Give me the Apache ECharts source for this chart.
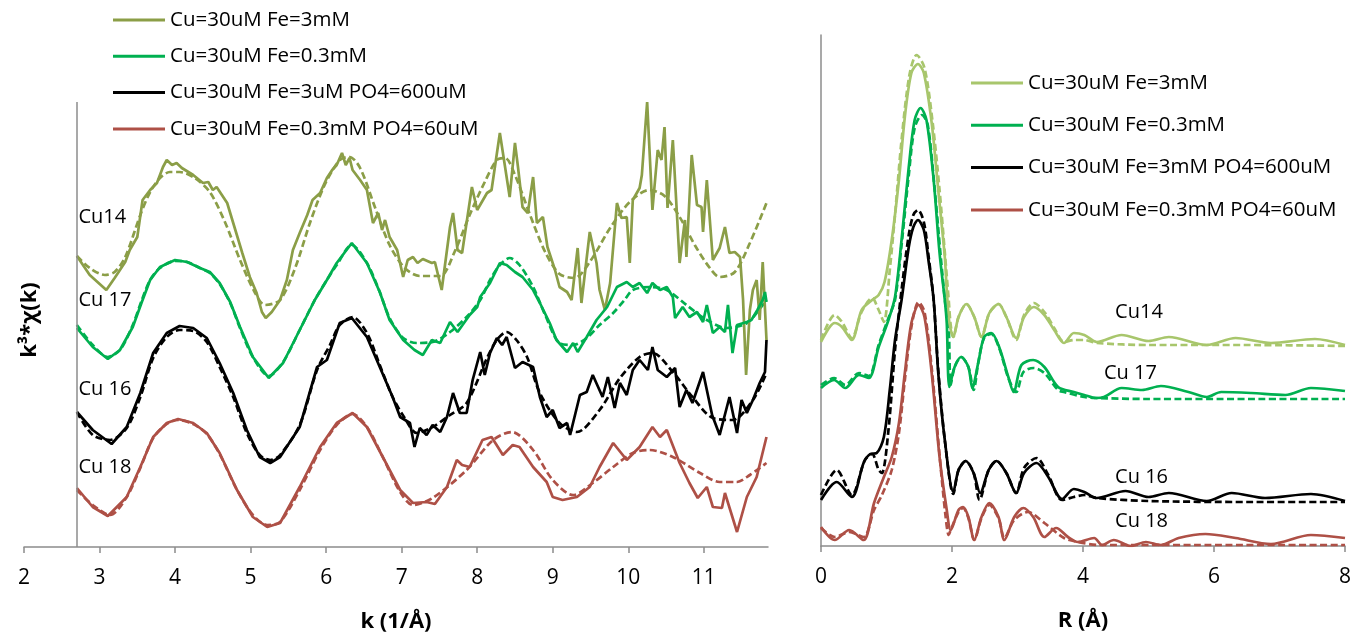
<!DOCTYPE html>
<html>
<head>
<meta charset="utf-8">
<script src="https://cdn.jsdelivr.net/npm/echarts@6/dist/echarts.min.js"></script>
<style>html,body{margin:0;padding:0;background:#fff}#c{width:1354px;height:642px}</style>
</head>
<body>
<div id="c"></div>
<script>
// ---------- DATA (y in arbitrary offset units) ----------
// Left panel: k (1/Å) vs k^3*chi(k), offset curves
const kTicks = [2, 3, 4, 5, 6, 7, 8, 9, 10, 11];
const rTicks = [0, 2, 4, 6, 8];

const cu14K = [[2.70,29.1],[2.87,27.2],[3.09,25.7],[3.20,26.9],[3.34,28.5],[3.40,29.7],[3.50,31.0],[3.57,34.7],[3.67,35.7],[3.76,36.4],[3.84,38.0],[3.89,38.7],[3.96,38.2],[4.02,38.4],[4.09,37.9],[4.24,37.2],[4.37,36.4],[4.44,36.5],[4.50,35.7],[4.55,36.0],[4.69,34.4],[4.77,32.4],[4.89,29.4],[4.99,27.0],[5.08,25.4],[5.15,23.5],[5.20,22.9],[5.28,23.5],[5.39,24.7],[5.48,26.7],[5.56,29.7],[5.65,31.4],[5.75,33.2],[5.82,34.7],[5.92,35.4],[6.01,36.9],[6.08,37.7],[6.14,38.2],[6.21,39.4],[6.26,38.2],[6.31,38.9],[6.35,37.7],[6.45,36.7],[6.54,35.7],[6.62,32.4],[6.69,33.4],[6.74,31.7],[6.78,32.7],[6.84,31.0],[6.94,29.7],[7.02,27.0],[7.08,28.7],[7.15,29.0],[7.21,28.4],[7.28,28.8],[7.40,28.4],[7.44,28.5],[7.53,25.7],[7.64,32.0],[7.68,33.4],[7.74,29.7],[7.80,29.4],[7.93,36.0],[8.00,33.7],[8.13,35.4],[8.19,35.7],[8.30,41.4],[8.43,35.0],[8.50,40.4],[8.54,38.0],[8.60,34.0],[8.67,33.4],[8.74,37.0],[8.79,32.4],[8.87,33.0],[8.93,30.0],[9.03,27.7],[9.09,26.0],[9.19,25.5],[9.25,24.7],[9.33,29.9],[9.38,24.4],[9.49,31.5],[9.58,28.4],[9.62,25.7],[9.69,23.7],[9.76,26.4],[9.85,34.4],[9.91,32.9],[9.98,33.0],[10.02,28.4],[10.06,34.7],[10.15,35.9],[10.18,37.2],[10.25,44.5],[10.32,33.7],[10.39,39.7],[10.44,38.7],[10.48,42.0],[10.52,33.9],[10.59,40.7],[10.68,28.4],[10.75,32.7],[10.77,29.0],[10.84,39.2],[10.91,34.2],[10.97,34.0],[10.99,31.5],[11.04,36.7],[11.12,28.7],[11.21,29.9],[11.28,32.0],[11.34,29.4],[11.41,29.5],[11.48,29.0],[11.52,24.7],[11.56,17.2],[11.61,23.7],[11.65,25.7],[11.70,26.7],[11.74,22.7],[11.78,28.5],[11.83,20.7]];
const cu14KFit = [[2.70,29.1],[2.87,27.9],[3.07,27.2],[3.20,27.5],[3.34,29.0],[3.54,33.2],[3.67,35.5],[3.80,36.9],[3.93,37.5],[4.06,37.5],[4.26,36.9],[4.46,35.5],[4.66,32.5],[4.86,28.7],[5.06,25.4],[5.19,24.2],[5.39,24.7],[5.59,27.9],[5.79,32.5],[5.98,36.2],[6.18,38.7],[6.31,39.0],[6.45,37.9],[6.65,33.9],[6.84,30.2],[7.04,27.9],[7.24,27.1],[7.51,27.1],[7.70,29.5],[7.90,33.2],[8.10,36.5],[8.26,38.7],[8.37,38.9],[8.50,37.2],[8.70,33.2],[8.90,29.5],[9.09,27.3],[9.29,26.9],[9.49,28.5],[9.76,31.9],[10.02,34.5],[10.28,35.7],[10.48,35.1],[10.68,33.0],[10.88,30.2],[11.08,27.9],[11.21,27.0],[11.41,27.5],[11.61,30.4],[11.83,34.4]];

const cu17K = [[2.70,21.9],[2.91,20.0],[3.11,18.8],[3.27,19.7],[3.44,22.0],[3.56,24.5],[3.67,26.7],[3.80,28.0],[4.00,28.7],[4.16,28.5],[4.33,27.9],[4.46,27.5],[4.59,26.4],[4.73,24.5],[4.86,22.0],[5.03,19.0],[5.24,16.9],[5.43,18.4],[5.65,21.7],[5.85,24.7],[6.01,26.7],[6.14,28.4],[6.34,30.4],[6.54,28.4],[6.71,25.5],[6.84,22.7],[7.02,20.7],[7.17,19.7],[7.28,19.2],[7.40,20.7],[7.51,20.4],[7.64,22.5],[7.74,21.5],[7.90,23.2],[8.00,24.0],[8.04,25.0],[8.17,26.4],[8.30,28.4],[8.39,28.2],[8.50,27.5],[8.60,27.0],[8.74,25.7],[8.83,24.4],[8.96,22.4],[9.05,20.7],[9.19,19.5],[9.27,20.4],[9.33,19.5],[9.45,21.0],[9.58,22.7],[9.72,24.0],[9.85,26.0],[9.98,26.5],[10.06,26.0],[10.15,26.4],[10.25,25.4],[10.32,26.4],[10.42,25.7],[10.51,26.0],[10.59,25.0],[10.62,22.9],[10.72,24.0],[10.81,23.0],[10.91,23.5],[10.99,22.5],[11.04,24.2],[11.12,21.4],[11.21,22.0],[11.28,21.5],[11.32,24.2],[11.38,19.4],[11.44,22.2],[11.57,22.5],[11.63,22.7],[11.71,23.7],[11.78,24.7],[11.81,25.5],[11.83,24.5]];
const cu17KFit = [[2.70,22.2],[2.91,20.2],[3.11,19.0],[3.27,19.7],[3.44,22.2],[3.56,24.7],[3.67,26.7],[3.80,27.9],[4.00,28.6],[4.16,28.5],[4.33,27.9],[4.46,27.4],[4.59,26.3],[4.73,24.4],[4.86,21.9],[5.03,19.0],[5.24,17.1],[5.43,18.5],[5.65,21.7],[5.85,24.7],[6.01,26.7],[6.14,28.2],[6.34,30.2],[6.54,28.4],[6.71,25.5],[6.84,22.9],[7.02,20.9],[7.20,20.4],[7.41,20.5],[7.64,21.5],[7.86,23.0],[8.04,24.7],[8.17,26.7],[8.30,28.2],[8.43,28.9],[8.56,28.2],[8.74,26.0],[8.90,23.2],[9.09,20.4],[9.27,20.2],[9.45,20.9],[9.62,22.2],[9.80,23.4],[9.95,24.7],[10.06,25.7],[10.28,26.0],[10.51,25.7],[10.77,24.2],[11.04,22.7],[11.30,21.9],[11.57,22.4],[11.78,24.2],[11.83,24.7]];

const cu16K = [[2.70,13.5],[2.91,11.7],[3.16,10.3],[3.36,12.0],[3.54,15.4],[3.71,19.4],[3.89,21.4],[4.06,22.1],[4.24,21.9],[4.42,20.9],[4.59,18.4],[4.77,15.4],[4.95,11.7],[5.12,9.0],[5.26,8.4],[5.39,9.0],[5.65,12.0],[5.88,18.0],[6.01,18.7],[6.18,22.4],[6.34,22.9],[6.54,21.0],[6.71,18.0],[6.88,15.0],[6.98,13.0],[7.11,12.4],[7.17,10.0],[7.24,11.9],[7.33,11.2],[7.41,12.2],[7.51,11.5],[7.60,13.0],[7.68,15.4],[7.77,13.4],[7.86,13.4],[7.94,16.7],[8.04,19.5],[8.10,17.2],[8.17,19.4],[8.26,20.9],[8.33,20.2],[8.39,21.0],[8.50,17.9],[8.60,18.5],[8.74,18.0],[8.83,15.0],[8.92,13.0],[9.00,13.7],[9.09,11.9],[9.19,12.4],[9.23,11.2],[9.36,15.2],[9.45,15.5],[9.53,17.2],[9.66,15.0],[9.73,17.0],[9.82,13.9],[9.89,16.4],[9.98,15.2],[10.06,17.7],[10.15,18.7],[10.26,17.7],[10.32,20.0],[10.39,17.7],[10.51,17.0],[10.62,17.9],[10.68,14.0],[10.77,15.7],[10.85,14.4],[10.99,17.5],[11.11,13.2],[11.21,11.2],[11.34,15.0],[11.44,11.4],[11.50,14.7],[11.57,13.4],[11.65,14.7],[11.74,16.4],[11.81,17.5],[11.83,20.7]];
const cu16KFit = [[2.70,13.5],[2.91,11.2],[3.14,10.7],[3.36,11.9],[3.54,15.0],[3.71,18.9],[3.89,21.0],[4.06,21.7],[4.24,21.6],[4.42,20.5],[4.59,18.0],[4.77,15.0],[4.95,11.4],[5.12,9.2],[5.26,8.7],[5.39,9.2],[5.65,12.2],[5.88,17.7],[6.05,20.2],[6.18,22.2],[6.35,23.0],[6.54,21.4],[6.71,18.2],[6.88,15.0],[7.04,12.9],[7.20,11.4],[7.41,12.0],[7.64,13.2],[7.86,14.4],[8.13,18.9],[8.26,20.7],[8.39,21.5],[8.52,20.7],[8.66,19.0],[8.83,15.4],[9.09,12.4],[9.32,11.5],[9.62,13.7],[9.89,16.9],[10.15,19.0],[10.32,19.4],[10.59,17.5],[10.85,15.0],[11.12,12.9],[11.38,12.7],[11.65,14.7],[11.83,17.4]];

const cu18K = [[2.70,5.9],[2.91,4.0],[3.11,3.1],[3.36,5.0],[3.54,8.0],[3.71,11.0],[3.89,12.4],[4.04,12.8],[4.24,12.4],[4.42,11.4],[4.59,9.4],[4.82,5.7],[5.03,3.0],[5.22,2.0],[5.39,2.4],[5.65,6.0],[5.92,10.0],[6.14,12.4],[6.35,13.4],[6.54,12.0],[6.75,9.0],[6.98,5.7],[7.15,4.4],[7.33,4.5],[7.44,4.3],[7.60,6.0],[7.73,8.7],[7.80,8.2],[7.90,8.0],[8.07,10.7],[8.19,11.0],[8.34,9.2],[8.47,10.2],[8.56,10.0],[8.74,8.0],[8.92,6.5],[9.00,5.0],[9.13,4.7],[9.32,5.0],[9.49,6.0],[9.62,8.0],[9.80,10.4],[9.98,8.7],[10.15,10.0],[10.32,12.0],[10.42,11.0],[10.51,11.7],[10.68,8.4],[10.81,6.4],[10.92,4.9],[11.04,6.0],[11.12,4.0],[11.24,3.9],[11.28,5.4],[11.44,1.5],[11.57,5.0],[11.70,7.0],[11.83,11.0]];
const cu18KFit = [[2.70,5.7],[2.91,4.2],[3.14,3.2],[3.36,5.0],[3.54,7.9],[3.71,10.9],[3.89,12.3],[4.04,12.7],[4.24,12.3],[4.42,11.3],[4.59,9.3],[4.82,5.7],[5.03,3.2],[5.22,2.2],[5.39,2.5],[5.65,5.7],[5.92,9.7],[6.14,12.2],[6.35,13.3],[6.54,12.0],[6.75,9.0],[6.98,5.5],[7.15,4.2],[7.41,4.9],[7.86,7.7],[8.21,10.7],[8.46,11.5],[8.74,9.7],[9.00,6.7],[9.27,5.2],[9.53,6.4],[9.80,8.0],[10.06,9.4],[10.28,9.7],[10.59,9.0],[10.95,7.4],[11.21,6.5],[11.44,6.5],[11.61,7.2],[11.83,8.4]];

// Right panel: R (Å) vs |FT|, offset curves
const cu14R = [[0.00,20.4],[0.21,22.3],[0.32,21.9],[0.47,20.6],[0.62,23.6],[0.78,24.6],[0.88,25.1],[0.97,26.4],[1.08,30.6],[1.19,36.6],[1.28,42.9],[1.38,47.3],[1.48,48.2],[1.57,47.3],[1.69,42.3],[1.79,35.6],[1.89,28.9],[1.92,25.6],[1.96,22.3],[2.02,20.9],[2.10,22.9],[2.22,24.2],[2.34,22.9],[2.45,20.9],[2.57,23.3],[2.71,24.2],[2.83,22.9],[2.98,20.8],[3.10,22.9],[3.25,23.9],[3.41,23.1],[3.56,21.6],[3.71,20.3],[3.86,21.3],[4.02,21.1],[4.21,20.4],[4.59,21.1],[5.00,20.5],[5.31,20.9],[5.89,20.1],[6.33,20.8],[6.87,20.3],[7.54,20.7],[8.00,20.1]];
const cu14RFit = [[0.00,20.6],[0.21,23.1],[0.32,22.4],[0.47,20.8],[0.62,23.4],[0.78,24.8],[0.88,23.6],[0.96,22.4],[1.05,27.6],[1.13,33.1],[1.23,40.6],[1.35,47.1],[1.46,49.1],[1.58,47.8],[1.70,42.6],[1.81,35.6],[1.90,28.6],[1.95,24.6],[1.98,22.1],[2.02,20.9],[2.10,22.9],[2.22,24.2],[2.34,22.9],[2.45,20.9],[2.57,23.3],[2.71,24.2],[2.83,22.9],[2.98,20.6],[3.10,23.1],[3.25,24.3],[3.41,23.4],[3.56,21.8],[3.71,20.4],[3.86,20.6],[4.02,20.6],[4.21,20.3],[5.00,20.1],[6.52,20.1],[8.00,20.0]];

const cu17R = [[0.00,15.8],[0.20,16.6],[0.37,15.8],[0.58,17.1],[0.73,16.8],[0.88,19.9],[1.03,22.6],[1.13,24.9],[1.23,30.6],[1.34,37.9],[1.43,42.6],[1.52,43.8],[1.61,42.6],[1.72,36.6],[1.81,29.3],[1.89,24.6],[1.92,22.3],[1.96,15.9],[2.04,17.9],[2.14,18.9],[2.25,17.9],[2.31,15.8],[2.40,18.3],[2.49,20.9],[2.60,21.3],[2.72,19.9],[2.86,16.9],[2.94,15.4],[3.06,18.1],[3.24,18.6],[3.41,17.9],[3.62,15.9],[3.86,15.4],[4.02,15.1],[4.20,14.8],[4.32,14.9],[4.59,15.8],[4.90,15.6],[5.19,16.0],[5.61,15.4],[5.89,14.9],[6.11,15.4],[6.57,15.3],[7.09,15.1],[7.48,15.8],[8.00,15.5]];
const cu17RFit = [[0.00,16.1],[0.20,16.8],[0.37,16.1],[0.58,17.3],[0.73,17.0],[0.88,20.1],[1.03,22.8],[1.13,24.6],[1.23,30.1],[1.34,37.1],[1.43,41.8],[1.54,43.1],[1.63,42.1],[1.73,36.1],[1.83,28.8],[1.90,24.1],[1.95,21.6],[1.98,16.1],[2.04,17.9],[2.14,18.9],[2.25,17.9],[2.33,15.6],[2.40,18.3],[2.49,20.8],[2.60,21.2],[2.72,19.8],[2.86,16.8],[2.98,15.4],[3.09,17.4],[3.25,17.8],[3.41,17.3],[3.62,15.6],[3.71,15.4],[4.02,14.9],[4.20,14.8],[5.00,14.7],[6.52,14.7],[8.00,14.7]];

const cu16R = [[0.00,4.6],[0.24,6.4],[0.47,4.9],[0.65,8.3],[0.75,9.2],[0.85,9.3],[0.96,10.9],[1.05,15.6],[1.13,20.6],[1.23,24.6],[1.34,29.9],[1.41,31.9],[1.48,32.6],[1.57,31.6],[1.64,28.6],[1.72,24.6],[1.79,17.3],[1.89,10.6],[2.02,5.4],[2.10,7.6],[2.21,8.5],[2.33,7.3],[2.43,5.3],[2.56,7.6],[2.68,8.5],[2.83,7.3],[2.98,5.3],[3.10,7.3],[3.29,8.3],[3.47,6.9],[3.68,4.7],[3.86,5.7],[4.02,5.4],[4.21,4.8],[4.65,5.5],[5.00,4.9],[5.31,5.3],[5.89,4.5],[6.27,5.3],[6.78,4.8],[7.48,5.2],[8.00,4.5]];
const cu16RFit = [[0.00,5.1],[0.24,7.6],[0.47,5.1],[0.67,8.6],[0.78,9.2],[0.88,7.6],[0.93,7.3],[1.03,11.6],[1.13,19.6],[1.23,25.6],[1.34,31.1],[1.41,33.1],[1.48,33.6],[1.57,32.4],[1.64,29.1],[1.72,24.6],[1.79,17.6],[1.89,10.6],[2.02,5.2],[2.10,7.6],[2.21,8.5],[2.33,7.3],[2.42,4.6],[2.56,7.6],[2.68,8.5],[2.83,7.3],[2.98,5.3],[3.10,7.8],[3.29,8.8],[3.47,7.1],[3.68,4.6],[3.86,4.9],[4.02,5.1],[4.21,4.8],[5.00,4.5],[6.52,4.4],[8.00,4.4]];

const cu18R = [[0.00,1.9],[0.21,0.6],[0.43,1.6],[0.65,0.6],[0.81,4.3],[0.96,6.9],[1.08,8.9],[1.19,12.3],[1.28,17.3],[1.38,22.3],[1.49,24.1],[1.58,22.9],[1.69,17.3],[1.81,8.9],[1.92,3.6],[1.98,1.6],[2.10,3.6],[2.17,3.9],[2.25,2.9],[2.34,0.6],[2.45,2.9],[2.57,4.3],[2.71,2.9],[2.80,0.6],[2.95,2.9],[3.09,3.8],[3.24,2.9],[3.41,0.9],[3.59,1.8],[3.77,0.9],[3.92,0.4],[4.17,0.8],[4.29,0.1],[4.47,0.6],[4.73,0.0],[4.96,0.4],[5.19,0.1],[5.46,0.8],[5.87,1.2],[6.33,0.8],[6.87,0.2],[7.48,1.1],[8.00,0.8]];
const cu18RFit = [[0.00,1.8],[0.21,0.9],[0.43,1.4],[0.65,0.9],[0.81,3.6],[0.93,5.1],[1.08,7.6],[1.19,11.3],[1.28,16.6],[1.38,21.9],[1.49,24.4],[1.58,23.4],[1.69,17.8],[1.81,9.1],[1.90,3.1],[1.95,1.1],[1.98,1.6],[2.10,3.4],[2.17,3.8],[2.25,2.8],[2.34,0.6],[2.45,2.8],[2.57,4.1],[2.71,2.8],[2.80,0.8],[2.95,2.6],[3.16,3.4],[3.41,2.3],[3.71,0.8],[3.92,0.4],[4.24,0.1],[5.72,0.1],[8.00,0.1]];

// Sample names / legend text
const leftNames = ['Cu=30uM Fe=3mM', 'Cu=30uM Fe=0.3mM', 'Cu=30uM Fe=3uM PO4=600uM', 'Cu=30uM Fe=0.3mM PO4=60uM'];
const rightNames = ['Cu=30uM Fe=3mM', 'Cu=30uM Fe=0.3mM', 'Cu=30uM Fe=3mM PO4=600uM', 'Cu=30uM Fe=0.3mM PO4=60uM'];
const sampleLabels = ['Cu14', 'Cu 17', 'Cu 16', 'Cu 18'];
// label anchor points (data coords) for the sample tags
const leftTagPos = [[2.72, 33.0], [2.72, 24.7], [2.72, 15.8], [2.72, 8.0]];
const rightTagPos = [[4.49, 23.4], [4.32, 17.3], [4.49, 6.9], [4.49, 2.5]];

// ---------- STYLE ----------
const FONT = '"Open Sans", "Noto Sans", sans-serif';
const leftColors = ['#8B9E47', '#00B050', '#000000', '#AE5046'];
const rightColors = ['#A8C66C', '#00B050', '#000000', '#AE5046'];
const AXIS_GRAY = '#8C8C8C';
const LW = 2.7;
const DASH = [7, 3.5];

const leftExp = [cu14K, cu17K, cu16K, cu18K];
const leftFit = [cu14KFit, cu17KFit, cu16KFit, cu18KFit];
const rightExp = [cu14R, cu17R, cu16R, cu18R];
const rightFit = [cu14RFit, cu17RFit, cu16RFit, cu18RFit];

const series = [];
leftExp.forEach((d, i) => {
  series.push({
    name: leftNames[i], type: 'line', xAxisIndex: 0, yAxisIndex: 0,
    data: d, symbol: 'none', showSymbol: false, smooth: false, z: 3,
    lineStyle: { color: leftColors[i], width: LW }, itemStyle: { color: leftColors[i] }
  });
  series.push({
    name: sampleLabels[i] + ' fit k', type: 'line', xAxisIndex: 0, yAxisIndex: 0,
    data: leftFit[i], symbol: 'none', showSymbol: false, smooth: 0.3, z: 2,
    lineStyle: { color: leftColors[i], width: LW, type: DASH }, itemStyle: { color: leftColors[i] }
  });
});
rightExp.forEach((d, i) => {
  series.push({
    name: rightNames[i], type: 'line', xAxisIndex: 1, yAxisIndex: 1,
    data: d, symbol: 'none', showSymbol: false, smooth: 0.3, z: 3,
    lineStyle: { color: rightColors[i], width: LW }, itemStyle: { color: rightColors[i] }
  });
  series.push({
    name: sampleLabels[i] + ' fit R', type: 'line', xAxisIndex: 1, yAxisIndex: 1,
    data: rightFit[i], symbol: 'none', showSymbol: false, smooth: 0.3, z: 2,
    lineStyle: { color: rightColors[i], width: LW, type: DASH }, itemStyle: { color: rightColors[i] }
  });
});
// left vertical axis line crossing at k = 2.7
series.push({
  name: 'yline', type: 'line', xAxisIndex: 0, yAxisIndex: 0, data: [], silent: true,
  markLine: { symbol: 'none', silent: true, label: { show: false },
    lineStyle: { color: AXIS_GRAY, width: 1.5, type: 'solid' }, data: [{ xAxis: 2.7 }] }
});
// sample tags
function tagSeries(pos, xi) {
  return {
    name: 'tags' + xi, type: 'scatter', xAxisIndex: xi, yAxisIndex: xi, silent: true,
    symbolSize: 0.01, itemStyle: { color: '#000', opacity: 1 },
    data: pos.map((p, i) => ({ value: p, name: sampleLabels[i] })),
    label: { show: true, position: 'right', distance: 0, formatter: p => p.name,
      fontFamily: FONT, fontSize: 20, color: '#000', opacity: 1 }, z: 5
  };
}
series.push(tagSeries(leftTagPos, 0));
series.push(tagSeries(rightTagPos, 1));

function legendData(names, colors) {
  return names.map((n, i) => ({ name: n, icon: 'rect', itemStyle: { color: colors[i], borderWidth: 0 } }));
}
const legendText = { fontFamily: FONT, fontSize: 20.5, color: '#000', lineHeight: 24 };

const option = {
  animation: false,
  backgroundColor: '#fff',
  legend: [
    { orient: 'vertical', left: 113, top: 8, padding: 0, itemWidth: 52, itemHeight: 3, itemGap: 12.3,
      textStyle: legendText, data: legendData(leftNames, leftColors), selectedMode: false },
    { orient: 'vertical', left: 971, top: 71, padding: 0, itemWidth: 52, itemHeight: 3, itemGap: 18.3,
      textStyle: legendText, data: legendData(rightNames, rightColors), selectedMode: false }
  ],
  grid: [
    { left: 24, right: 586, top: 102, bottom: 95 },
    { left: 821, right: 7, top: 35, bottom: 96 }
  ],
  xAxis: [
    { type: 'value', gridIndex: 0, min: 2, max: 11.85, interval: 1,
      name: 'k (1/Å)', nameLocation: 'middle', nameGap: 64,
      nameTextStyle: { fontFamily: FONT, fontSize: 22, fontWeight: 'bold', color: '#000' },
      axisLine: { show: true, lineStyle: { color: AXIS_GRAY, width: 1.5 } },
      axisTick: { show: true, length: 6, customValues: kTicks, lineStyle: { color: AXIS_GRAY, width: 1.5 } },
      axisLabel: { customValues: kTicks, margin: 21, fontFamily: FONT, fontSize: 21, color: '#000' },
      splitLine: { show: false } },
    { type: 'value', gridIndex: 1, min: 0, max: 8, interval: 2,
      name: 'R (Å)', nameLocation: 'middle', nameGap: 64,
      nameTextStyle: { fontFamily: FONT, fontSize: 22, fontWeight: 'bold', color: '#000' },
      axisLine: { show: true, lineStyle: { color: AXIS_GRAY, width: 1.5 } },
      axisTick: { show: true, length: 6, customValues: rTicks, lineStyle: { color: AXIS_GRAY, width: 1.5 } },
      axisLabel: { customValues: rTicks, margin: 21, fontFamily: FONT, fontSize: 21, color: '#000' },
      splitLine: { show: false } }
  ],
  yAxis: [
    { type: 'value', gridIndex: 0, min: 0, max: 44.5, show: true,
      axisLine: { show: false }, axisTick: { show: false }, axisLabel: { show: false }, splitLine: { show: false } },
    { type: 'value', gridIndex: 1, min: 0, max: 51.1,
      axisLine: { show: true, lineStyle: { color: AXIS_GRAY, width: 1.5 } },
      axisTick: { show: false }, axisLabel: { show: false }, splitLine: { show: false } }
  ],
  graphic: [
    { type: 'text', x: 30, y: 320, rotation: Math.PI / 2,
      style: { text: 'k³*χ(k)', fontFamily: FONT, fontSize: 22, fontWeight: 'bold', fill: '#000',
        align: 'center', verticalAlign: 'middle' } }
  ],
  series: series
};

const chart = echarts.init(document.getElementById('c'), null, { renderer: 'canvas' });
chart.setOption(option);
</script>
</body>
</html>
